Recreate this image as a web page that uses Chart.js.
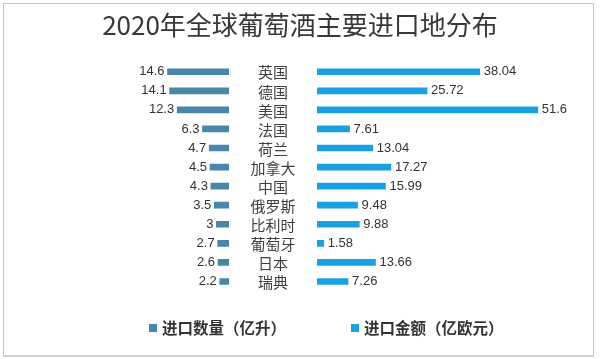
<!DOCTYPE html>
<html>
<head>
<meta charset="utf-8">
<script src="https://cdn.jsdelivr.net/npm/chart.js@4.4.0/dist/chart.umd.min.js"></script>
<style>
  html, body { margin: 0; padding: 0; background: #fff; }
  #wrap { width: 600px; height: 359px; }
</style>
</head>
<body>
<div id="wrap"><canvas id="chart" width="600" height="359"></canvas></div>
<script>
const titleText = '2020年全球葡萄酒主要进口地分布';
const countries = ['英国', '德国', '美国', '法国', '荷兰', '加拿大', '中国', '俄罗斯', '比利时', '葡萄牙', '日本', '瑞典'];
const volume = [14.6, 14.1, 12.3, 6.3, 4.7, 4.5, 4.3, 3.5, 3, 2.7, 2.6, 2.2];
const amount = [38.04, 25.72, 51.6, 7.61, 13.04, 17.27, 15.99, 9.48, 9.88, 1.58, 13.66, 7.26];
const seriesNames = ['进口数量（亿升）', '进口金额（亿欧元）'];
const colors = ['#4a86aa', '#18a0e0'];

// white page + light grey frame
const framePlugin = {
  id: 'frame',
  beforeDraw(chart) {
    const ctx = chart.ctx;
    ctx.save();
    ctx.fillStyle = '#fff';
    ctx.fillRect(0, 0, chart.width, chart.height);
    ctx.strokeStyle = '#c4c4c4';
    ctx.lineWidth = 1;
    ctx.strokeRect(3.5, 3.5, 590, 352);
    ctx.fillStyle = '#cfcfcf';
    ctx.fillRect(3, 355, 591, 2);
    ctx.restore();
  }
};

// value labels at bar ends, country names in the middle gap, legend at bottom
const labelsPlugin = {
  id: 'labels',
  afterDatasetsDraw(chart) {
    const ctx = chart.ctx;
    const mid = chart.scales.xM;
    const midX = (mid.left + mid.right) / 2;
    ctx.save();
    ctx.textBaseline = 'middle';

    ctx.font = '13px "Liberation Sans", Arial, sans-serif';
    ctx.fillStyle = '#333';
    chart.getDatasetMeta(0).data.forEach((bar, i) => {
      ctx.textAlign = 'right';
      ctx.fillText(String(volume[i]), bar.x - 3, bar.y);
    });
    chart.getDatasetMeta(1).data.forEach((bar, i) => {
      ctx.textAlign = 'left';
      ctx.fillText(String(amount[i]), bar.x + 4, bar.y);
    });

    ctx.font = '15px "Noto Sans CJK SC", sans-serif';
    ctx.fillStyle = '#404040';
    ctx.textAlign = 'center';
    chart.getDatasetMeta(0).data.forEach((bar, i) => {
      ctx.fillText(countries[i], midX, bar.y + 1);
    });

    // legend
    ctx.font = 'bold 15.5px "Noto Sans CJK SC", sans-serif';
    ctx.textAlign = 'left';
    const starts = [149, 351];
    chart.data.datasets.forEach((ds, i) => {
      ctx.fillStyle = ds.backgroundColor;
      ctx.fillRect(starts[i], 324, 8, 8);
      ctx.fillStyle = '#333';
      ctx.fillText(ds.label, starts[i] + 13, 328);
    });
    ctx.restore();
  }
};

new Chart(document.getElementById('chart'), {
  type: 'bar',
  data: {
    labels: countries,
    datasets: [
      {
        label: seriesNames[0],
        data: volume,
        backgroundColor: colors[0],
        xAxisID: 'xL',
        barThickness: 6,
        grouped: false
      },
      {
        label: seriesNames[1],
        data: amount,
        backgroundColor: colors[1],
        xAxisID: 'xR',
        barThickness: 6,
        grouped: false
      }
    ]
  },
  options: {
    indexAxis: 'y',
    responsive: false,
    animation: false,
    devicePixelRatio: 1,
    layout: { padding: { left: 10, right: 10, top: 0, bottom: 68 } },
    scales: {
      y: { display: false, offset: true },
      xL: { type: 'linear', position: 'bottom', reverse: true, min: 0, max: 52, display: false, stack: 'x', stackWeight: 219, weight: 1 },
      xM: { type: 'linear', position: 'bottom', min: 0, max: 1, display: false, stack: 'x', stackWeight: 88, weight: 2 },
      xR: { type: 'linear', position: 'bottom', min: 0, max: 63.8, display: false, stack: 'x', stackWeight: 273, weight: 3 }
    },
    plugins: {
      legend: { display: false },
      tooltip: { enabled: false },
      title: {
        display: true,
        text: titleText,
        color: '#383838',
        font: { family: '"Noto Sans CJK SC", sans-serif', size: 26, weight: 'normal' },
        padding: { top: 10, bottom: 21 }
      }
    }
  },
  plugins: [framePlugin, labelsPlugin]
});
</script>
</body>
</html>
